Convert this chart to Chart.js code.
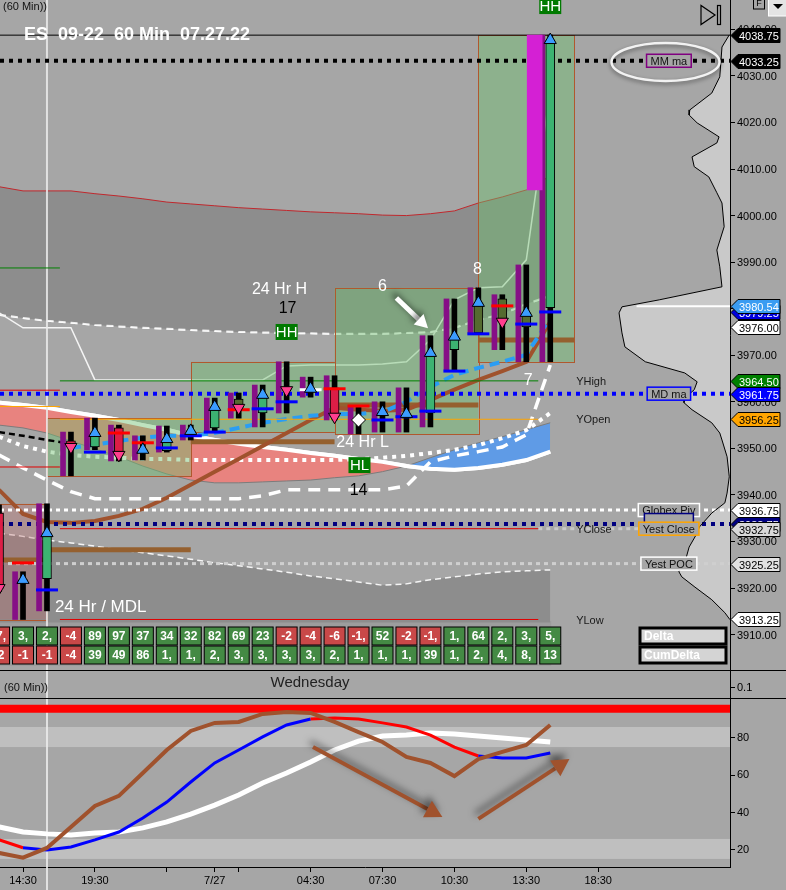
<!DOCTYPE html>
<html>
<head>
<meta charset="utf-8">
<title>ES 09-22 60 Min 07.27.22</title>
<script src="https://cdn.jsdelivr.net/npm/chart.js@4.4.1/dist/chart.umd.min.js"></script>
<style>
  html, body { margin: 0; padding: 0; background: #a6a6a6; overflow: hidden; }
  #wrap { position: relative; width: 786px; height: 890px; }
  canvas { position: absolute; left: 0; display: block; }
  #price { top: 0; width: 786px; height: 670px; }
  #osc { top: 670px; width: 786px; height: 220px; }
</style>
</head>
<body>
<div id="wrap">
  <canvas id="price" width="786" height="670"></canvas>
  <canvas id="osc" width="786" height="220"></canvas>
</div>
<script>
const FONT = '"Liberation Sans", Arial, sans-serif';
const BG = '#a6a6a6';

// 60 min bars, x = bar number (0 = the 14:30 bar)
const bars   = [-1, 0, 1, 2, 3, 4, 5, 6, 7, 8, 9, 10, 11, 12, 13, 14, 15, 16, 17, 18, 19, 20, 21, 22];
const opens  = [3936.1, 3921.2, 3922.0, 3951.6, 3950.3, 3954.4, 3949.2, 3949.5, 3952.9, 3954.4, 3960.6, 3957.6, 3963.0, 3962.3, 3963.0, 3956.1, 3957.0, 3956.5, 3957.6, 3971.2, 3974.8, 3982.1, 3976.1, 3980.2];
const highs  = [3937.9, 3923.5, 3938.1, 3953.5, 3956.5, 3955.0, 3952.7, 3954.8, 3955.0, 3960.8, 3961.9, 3963.6, 3968.6, 3965.3, 3965.6, 3959.1, 3960.0, 3963.0, 3974.2, 3982.1, 3984.5, 3983.0, 3989.4, 4038.75];
const lows   = [3919.2, 3913.25, 3915.1, 3944.1, 3949.7, 3947.3, 3947.5, 3949.2, 3951.8, 3953.5, 3956.5, 3954.6, 3957.6, 3961.0, 3956.1, 3953.1, 3953.5, 3953.5, 3954.6, 3966.9, 3974.8, 3971.2, 3968.6, 3968.6];
const closes = [3920.0, 3921.75, 3931.8, 3950.3, 3953.3, 3948.6, 3949.7, 3952.0, 3953.75, 3958.9, 3958.7, 3961.5, 3962.5, 3962.8, 3956.8, 3956.1, 3957.8, 3957.4, 3970.5, 3974.0, 3981.25, 3977.2, 3979.1, 4037.7];
const oliveBars = [9, 19, 20, 21];
const lastBarSpike = [4005.5, 4038.75];

// per bar value markers
const pocBlue  = [null, null, 3919.6, null, 3949.2, null, null, 3950.1, 3952.7, 3953.5, null, 3958.5, 3960.0, null, null, null, 3956.1, 3956.8, 3958.0, 3966.6, 3974.6, null, 3976.7, 3979.3];
const pocRed   = [null, 3925.4, null, null, null, 3953.3, 3951.2, null, null, null, 3958.3, null, null, null, 3962.8, 3959.1, null, null, null, null, null, 3980.6, null, null];
const pocWhite = [null, null, null, null, null, null, null, null, null, null, null, null, null, 3962.6, null, null, null, null, null, null, null, null, null, null];

// overlay studies
const upperTop    = [4006.2, 4005.3, 4005.3, 4005.3, 4004.7, 4004.2, 4003.6, 4002.9, 4002.5, 4002.1, 4001.7, 4001.4, 4001.1, 4000.8, 4000.6, 4000.4, 4000.1, 4000.0, 4000.4, 4001.0, 4002.7, 4004.0, 4005.5, 4008.5];
const upperBot    = [3978.7, 3978.0, 3977.4, 3977.0, 3976.5, 3976.2, 3975.9, 3975.7, 3975.4, 3975.2, 3975.0, 3974.9, 3974.8, 3974.7, 3974.6, 3974.6, 3974.6, 3974.8, 3975.0, 3975.9, 3977.6, 3978.9, 3981.0, 3982.8];
const lowerTop    = [3931.8, 3931.1, 3930.3, 3929.7, 3929.0, 3928.2, 3927.6, 3926.9, 3926.2, 3925.4, 3924.8, 3924.1, 3923.4, 3922.6, 3922.0, 3921.3, 3920.6, 3920.9, 3921.8, 3922.4, 3923.0, 3923.5, 3923.7, 3923.9];
const kumoA       = [3959.8, 3959.3, 3958.7, 3957.8, 3957.0, 3956.1, 3955.0, 3954.0, 3952.7, 3951.8, 3951.0, 3950.3, 3949.7, 3949.0, 3948.4, 3947.7, 3947.1, 3946.2, 3945.6, 3945.4, 3945.8, 3946.5, 3947.5, 3949.3];
const kumoB       = [3955.0, 3954.4, 3953.3, 3951.6, 3949.9, 3948.2, 3946.2, 3944.5, 3943.2, 3942.6, 3942.6, 3942.8, 3943.0, 3943.2, 3943.7, 3944.1, 3945.0, 3946.2, 3948.0, 3949.7, 3951.2, 3952.5, 3954.0, 3955.5];
const whiteDotted = [3952.5, 3950.5, 3949.3, 3948.6, 3948.2, 3948.0, 3947.7, 3947.7, 3947.5, 3947.5, 3947.5, 3947.5, 3947.5, 3947.5, 3947.5, 3947.7, 3948.0, 3948.4, 3949.0, 3949.7, 3950.7, 3952.2, 3953.9, 3957.6];
const thinWhite   = [3979.1, 3975.9, 3975.9, 3975.9, 3964.7, 3964.7, 3964.7, 3964.7, 3964.7, 3964.7, 3964.7, 3964.7, 3967.7, 3967.9, 3967.9, 3967.9, 3968.1, 3968.6, 3973.3, 3981.9, 3984.5, 3984.7, 3990.5, 4027.0];
const blackDash   = [3953.5, 3952.7, 3951.8, 3951.0, null, null, null, null, null, null, null, null, null, null, null, null, null, null, null, null, null, null, null, null];
const brownMA     = [3941.1, 3935.9, 3934.2, 3934.0, 3934.4, 3935.5, 3937.0, 3939.4, 3942.2, 3945.0, 3947.7, 3950.5, 3953.3, 3956.1, 3958.7, 3958.3, 3958.1, 3958.3, 3960.4, 3962.6, 3964.7, 3966.6, 3968.6, 3977.2];
const blueDash    = [null, null, null, 3950.1, 3950.8, 3951.6, 3952.3, 3952.7, 3952.7, 3953.3, 3954.4, 3955.5, 3956.3, 3957.0, 3957.4, 3957.4, 3957.8, 3960.0, 3963.2, 3965.8, 3967.3, 3968.6, 3970.1, 3978.0];
const bigDash     = [3948.6, 3945.8, 3943.2, 3940.7, 3939.2, 3939.2, 3939.2, 3939.2, 3939.2, 3939.2, 3939.2, 3939.8, 3941.1, 3941.1, 3941.1, 3941.1, 3941.1, 3941.9, 3947.1, 3948.4, 3949.3, 3950.3, 3952.9, 3967.9];

// 4 hour range boxes (bar numbers) and their brown level
const boxStart = [-5, 1, 7, 13, 19];
const boxEnd   = [1, 7, 13, 19, 23];
const boxPoc   = [3926.0, 3928.2, 3951.4, 3959.3, 3973.3];

// price levels
const levelNames  = ['MM ma', 'MD ma', 'Globex Piv', '', 'Yest Close', 'Yest POC'];
const levelPrices = [4033.25, 3961.75, 3936.75, 3933.75, 3932.75, 3925.25];
const sessionHigh = 4038.75;
const yestNames   = ['YHigh', 'YOpen', 'YClose', 'YLow'];
const yestPrices  = [3964.50, 3956.25, 3932.75, 3913.25];
const priorPrices = [3988.75, 3962.50, 3959.00, 3946.00];
const lastPrice   = 3980.54;

// right axis price tags
const tagPrices = [3979.25, 3980.54, 3976.00, 3964.50, 3961.75, 3956.25, 3936.75, 3933.75, 3932.75, 3925.25, 3913.25, 4038.75, 4033.25];

// volume profile
const profilePrice = [4038.8, 4036.2, 4029.8, 4026.3, 4022.7, 4021.6, 4019.9, 4016.9, 4015.6, 4012.6, 4010.5, 4008.3, 4004.9, 4002.7, 3997.6, 3992.6, 3989.0, 3984.7, 3981.9, 3980.4, 3979.1, 3974.8, 3971.8, 3968.6, 3966.2, 3964.3, 3962.6, 3960.8, 3959.8, 3958.3, 3955.5, 3953.3, 3951.8, 3948.2, 3943.9, 3940.4, 3938.3, 3936.1, 3933.1, 3931.8, 3928.8, 3925.4, 3923.5, 3922.4, 3920.2, 3917.5, 3914.7, 3913.2];
const profileVol   = [0.1, 1.1, 1.4, 2.5, 5.5, 5.6, 4.5, 1.5, 1.8, 5.2, 4.9, 2.9, 1.8, 1.1, 0.8, 1.8, 1.4, 1.1, 9.7, 14.8, 15.2, 14.8, 14.4, 11.6, 6.2, 4.5, 4.9, 6.2, 6.3, 5.2, 2.5, 1.4, 1.1, 0.4, 0.1, 0.4, 0.7, 2.5, 4.2, 4.5, 5.6, 6.2, 7.0, 6.6, 4.8, 2.5, 0.7, 0.0];

// delta rows
const deltaRow = ['-7,', '3,', '2,', '-4', '89', '97', '37', '34', '32', '82', '69', '23', '-2', '-4', '-6', '-1,', '52', '-2', '-1,', '1,', '64', '2,', '3,', '5,'];
const cumRow   = ['-2', '-1', '-1', '-4', '39', '49', '86', '1,', '1,', '2,', '3,', '3,', '3,', '3,', '2,', '1,', '1,', '1,', '39', '1,', '2,', '4,', '8,', '13'];

// oscillator
const oscBrown = [18.4, 15.9, 21.1, 32.3, 43.5, 48.9, 61.1, 73.4, 83.6, 87.9, 88.4, 92.7, 93.7, 93.2, 88.4, 83.0, 77.7, 69.7, 66.5, 59.5, 68.6, 72.4, 76.1, 86.8];
const oscK     = [25.4, 21.2, 20.0, 21.6, 25.4, 29.6, 37.1, 45.6, 56.3, 66.5, 73.4, 80.4, 86.8, 90.0, 90.5, 90.0, 87.9, 85.7, 81.4, 75.0, 70.2, 69.2, 69.2, 71.8];
const oscWhite = [32.3, 29.6, 28.6, 28.0, 29.1, 29.6, 31.8, 35.0, 39.2, 44.0, 49.4, 55.8, 61.1, 67.0, 73.4, 78.2, 80.9, 81.4, 82.5, 82.0, 80.9, 79.8, 78.8, 77.7];
const oscUpper = 95.4;
const oscBands = [[75.0, 85.7], [15.2, 25.9]];

// axes
const priceTicks = [3910, 3920, 3930, 3940, 3950, 3960, 3970, 3980, 3990, 4000, 4010, 4020, 4030, 4040];
const oscTicks   = [20, 40, 60, 80];
const timeTicks  = [0, 3, 6, 8, 9, 12, 15, 18, 21, 24];
const timeLabels = ['14:30', '19:30', '', '7/27', '', '04:30', '07:30', '10:30', '13:30', '18:30'];
const sessionBar = 1;

const X0 = -0.96, X1 = 29.5;

// ---------- helpers ----------
function series(arr, shift) {
  return bars.map((b, k) => ({x: b + (shift || 0), y: arr[k]})).filter(p => p.y !== null);
}
function line(label, data, o) {
  return Object.assign({type: 'line', label, data, pointRadius: 0, borderWidth: 1, fill: false,
    tension: 0, borderCapStyle: 'butt'}, o);
}
function flat(label, x1, x2, v, o) {
  return line(label, [{x: x1, y: v}, {x: x2, y: v}], o);
}
function arrow(ctx, x1, y1, x2, y2, color, w, head) {
  const a = Math.atan2(y2 - y1, x2 - x1);
  const bx = x2 - head * Math.cos(a), by = y2 - head * Math.sin(a);
  const hw = head * 0.55;
  ctx.strokeStyle = color; ctx.lineWidth = w; ctx.lineCap = 'butt';
  ctx.beginPath(); ctx.moveTo(x1, y1); ctx.lineTo(bx, by); ctx.stroke();
  ctx.fillStyle = color;
  ctx.beginPath(); ctx.moveTo(x2, y2);
  ctx.lineTo(bx + hw * Math.sin(a), by - hw * Math.cos(a));
  ctx.lineTo(bx - hw * Math.sin(a), by + hw * Math.cos(a));
  ctx.closePath(); ctx.fill();
}
function text(ctx, s, x, y, color, size, weight, align) {
  ctx.font = (weight || '') + ' ' + size + 'px ' + FONT;
  ctx.fillStyle = color; ctx.textAlign = align || 'center'; ctx.textBaseline = 'middle';
  ctx.fillText(s, x, y);
}

// ---------- price chart datasets ----------
const ds = [];
const idx = {};
function add(d) { idx[d.label] = ds.length; ds.push(d); return d; }

add(line('upperBot', series(upperBot), {borderColor: 'rgba(255,255,255,0.85)', borderWidth: 2, borderDash: [7, 5]}));
add(line('upperTop', series(upperTop), {borderColor: '#c0282d', borderWidth: 1,
  fill: {target: idx.upperBot, above: '#8d8d8d', below: '#8d8d8d'}}));
add(line('upperBot2', series(upperBot), {borderColor: 'rgba(255,255,255,0.85)', borderWidth: 2, borderDash: [7, 5]}));
add(line('lowerTop', series(lowerTop), {borderColor: 'rgba(255,255,255,0.9)', borderWidth: 1.5, borderDash: [6, 4],
  fill: {value: 3912.6}, backgroundColor: '#8d8d8d'}));
add(line('kumoA', series(kumoA), {borderColor: '#ffffff', borderWidth: 4}));
add(line('kumoB', series(kumoB), {borderColor: '#7c7c7c', borderWidth: 1,
  fill: {target: idx.kumoA, above: '#5f9be6', below: '#e8837f'}}));
add(line('kumoA2', series(kumoA), {borderColor: '#ffffff', borderWidth: 4}));
add(line('whiteDotted', series(whiteDotted), {borderColor: '#ffffff', borderWidth: 4, borderDash: [4, 5]}));
add(line('thinWhite', series(thinWhite), {borderColor: '#f4f4f4', borderWidth: 1.5}));
add(line('blackDash', series(blackDash), {borderColor: '#000000', borderWidth: 2.5, borderDash: [6, 4]}));
add(line('session', [{x: sessionBar, y: 3900}, {x: sessionBar, y: 4050}],
  {borderColor: 'rgba(235,235,235,0.85)', borderWidth: 2}));
add(line('brownMA', series(brownMA), {borderColor: '#a0522d', borderWidth: 4}));
add(line('blueDash', series(blueDash), {borderColor: '#2a9df4', borderWidth: 4, borderDash: [10, 6]}));
add(line('bigDash', series(bigDash), {borderColor: '#ffffff', borderWidth: 3.5, borderDash: [12, 8]}));

// levels
add(flat('hi', X0, X1, sessionHigh, {borderColor: '#000', borderWidth: 1}));
const levelStyle = [
  {borderColor: '#000000', borderWidth: 4, borderDash: [4, 5]},
  {borderColor: '#0000ff', borderWidth: 4, borderDash: [4, 5]},
  {borderColor: '#ffffff', borderWidth: 3, borderDash: [4, 4]},
  {borderColor: '#000080', borderWidth: 4, borderDash: [4, 5]},
  {borderColor: '#c8c8c8', borderWidth: 3, borderDash: [4, 4]},
  {borderColor: '#cfcfcf', borderWidth: 3, borderDash: [4, 4]}
];
levelPrices.forEach((p, k) => {
  const x1 = k === 4 ? 21.5 : X0;
  add(flat('lvl' + k, x1, X1, p, levelStyle[k]));
});
const yestColors = ['#008000', '#ffa500', '#e00000', '#e00000'];
yestPrices.forEach((p, k) => add(flat('y' + k, 1.54, 21.5, p, {borderColor: yestColors[k], borderWidth: 1})));
const priorColors = ['#008000', '#e00000', '#ffa500', '#e00000'];
priorPrices.forEach((p, k) => add(flat('p' + k, X0, 1.54, p, {borderColor: priorColors[k], borderWidth: 1})));
add(flat('last', 25.6, X1, lastPrice, {borderColor: '#ffffff', borderWidth: 2}));

// candles
add({type: 'bar', label: 'profileBars', grouped: false, barThickness: 5, backgroundColor: '#860f86',
  data: bars.map((b, k) => ({x: b - 0.33, y: [lows[k], highs[k]]}))});
add({type: 'bar', label: 'spike', grouped: false, barThickness: 15, backgroundColor: '#d420d4',
  data: [{x: bars[bars.length - 1] - 0.65, y: lastBarSpike}]});
add({type: 'bar', label: 'wicks', grouped: false, barThickness: 5, backgroundColor: '#000',
  data: bars.map((b, k) => ({x: b, y: [lows[k], highs[k]]}))});
add({type: 'bar', label: 'bodies', grouped: false, barThickness: 9, borderColor: '#000', borderWidth: 1, borderSkipped: false,
  backgroundColor: bars.map((b, k) => oliveBars.includes(b) ? '#556b2f' : (closes[k] >= opens[k] ? '#3cb371' : '#dc1e46')),
  data: bars.map((b, k) => ({x: b, y: [opens[k], closes[k]]}))});
const marker = (label, arr, color) => add(line(label, series(arr), {showLine: false, pointStyle: 'line', pointRadius: 11,
  pointBorderColor: color, pointBorderWidth: 3}));
marker('pocBlue', pocBlue, '#0000ff');
marker('pocRed', pocRed, '#ff0000');
marker('pocWhite', pocWhite, '#ffffff');
const upPts = [], dnPts = [], dojiPts = [];
bars.forEach((b, k) => {
  const d = closes[k] - opens[k];
  if (Math.abs(d) < 0.05) dojiPts.push({x: b, y: closes[k]});
  else if (d > 0) upPts.push({x: b, y: closes[k]});
  else dnPts.push({x: b, y: closes[k]});
});
add(line('up', upPts, {showLine: false, pointStyle: 'triangle', pointRadius: 7, pointBackgroundColor: '#3b9cff',
  pointBorderColor: '#000', pointBorderWidth: 1}));
add(line('dn', dnPts, {showLine: false, pointStyle: 'triangle', pointRotation: 180, pointRadius: 7,
  pointBackgroundColor: '#ff3f8e', pointBorderColor: '#000', pointBorderWidth: 1}));
add(line('doji', dojiPts, {showLine: false, pointStyle: 'rectRot', pointRadius: 7, pointBackgroundColor: '#ffffff',
  pointBorderColor: '#000', pointBorderWidth: 1}));
add(line('profile', profilePrice.map((p, k) => ({x: profileVol[k], y: p})), {xAxisID: 'xv', borderColor: '#000', borderWidth: 1}));

ds.forEach((d, k) => { d.order = ds.length - k; });

// ---------- price chart plugin ----------
const pricePlugin = {
  id: 'priceDecor',
  beforeDraw(chart) {
    const {ctx, width, height} = chart;
    ctx.save(); ctx.fillStyle = BG; ctx.fillRect(0, 0, width, height); ctx.restore();
  },
  beforeDatasetsDraw(chart) {
    const ctx = chart.ctx, xv = chart.scales.xv, y = chart.scales.y, x = chart.scales.x;
    ctx.save();
    ctx.beginPath();
    ctx.moveTo(xv.getPixelForValue(0), y.getPixelForValue(profilePrice[0]));
    profilePrice.forEach((p, k) => ctx.lineTo(xv.getPixelForValue(profileVol[k]), y.getPixelForValue(p)));
    ctx.lineTo(xv.getPixelForValue(0), y.getPixelForValue(profilePrice[profilePrice.length - 1]));
    ctx.closePath();
    ctx.fillStyle = '#c9c9c9'; ctx.fill();
    const b = chart.chartArea.bottom;
    ctx.fillStyle = 'rgba(0,0,0,0.05)';
    ctx.fillRect(0, b - 49, x.getPixelForValue(22) + 1, 45);
    ctx.restore();
  },
  afterDatasetDraw(chart, args) {
    if (chart.data.datasets[args.index].label !== 'thinWhite') return;
    const ctx = chart.ctx, x = chart.scales.x, y = chart.scales.y;
    ctx.save();
    boxStart.forEach((s, k) => {
      const e = boxEnd[k];
      const inBox = bars.map((b, j) => j).filter(j => bars[j] > s && bars[j] <= e);
      const hi = Math.max(...inBox.map(j => highs[j]));
      const lo = Math.min(...inBox.map(j => lows[j]));
      const up = closes[inBox[inBox.length - 1]] >= opens[inBox[0]];
      const x1 = x.getPixelForValue(s), x2 = x.getPixelForValue(e);
      const y1 = y.getPixelForValue(hi), y2 = y.getPixelForValue(lo);
      ctx.fillStyle = up ? 'rgba(110,190,110,0.45)' : 'rgba(190,110,110,0.35)';
      ctx.fillRect(x1, y1, x2 - x1, y2 - y1);
      ctx.strokeStyle = '#b0582e'; ctx.lineWidth = 1;
      ctx.strokeRect(Math.round(x1) + 0.5, Math.round(y1) + 0.5, Math.round(x2 - x1), Math.round(y2 - y1));
      const yp = y.getPixelForValue(boxPoc[k]);
      ctx.strokeStyle = '#95602f'; ctx.lineWidth = 5;
      ctx.beginPath(); ctx.moveTo(Math.max(x1, 0), yp); ctx.lineTo(x2, yp); ctx.stroke();
    });
    ctx.restore();
  },
  afterDatasetsDraw(chart) {
    const ctx = chart.ctx, x = chart.scales.x, y = chart.scales.y, area = chart.chartArea;
    const X = v => x.getPixelForValue(v), Y = v => y.getPixelForValue(v);
    ctx.save();

    yestNames.forEach((n, k) => text(ctx, n, X(23.08), Y(yestPrices[k]) + 1, '#1a1a1a', 11, '', 'left'));

    const notes = [
      ['24 Hr H', 10.7, 3984.0, '#fff'], ['17', 11.04, 3979.95, '#000'], ['6', 15.0, 3984.7, '#fff'],
      ['8', 18.96, 3988.3, '#fff'], ['7', 21.08, 3964.5, '#fff'], ['24 Hr L', 14.17, 3951.2, '#fff'],
      ['14', 14.0, 3940.9, '#000']
    ];
    notes.forEach(n => text(ctx, n[0], X(n[1]), Y(n[2]), n[3], 16));
    text(ctx, '24 Hr / MDL', X(1.33), Y(3915.95), '#fff', 17, '', 'left');
    [['HH', 22, 4045.0], ['HH', 11, 3975.0], ['HL', 14.04, 3946.4]].forEach(h => {
      const cx = X(h[1]), cy = Y(h[2]);
      ctx.fillStyle = '#007a00'; ctx.fillRect(cx - 11, cy - 8, 22, 16);
      text(ctx, h[0], cx, cy + 1, '#fff', 15);
    });

    ctx.save();
    ctx.shadowColor = 'rgba(0,0,0,0.55)'; ctx.shadowBlur = 6; ctx.shadowOffsetX = -3; ctx.shadowOffsetY = -4;
    arrow(ctx, X(15.58), Y(3982.3), X(16.9), Y(3975.8), '#ffffff', 5, 13);
    ctx.restore();

    const borders = ['#800080', '#0000ff', '#ffffff', '#000080', '#ffa500', '#ffffff'];
    levelPrices.forEach((p, k) => {
      const cx = X(26.95), cy = Y(p) + (k === 3 ? -4 : 0);
      ctx.font = '11px ' + FONT;
      const w = levelNames[k] ? ctx.measureText(levelNames[k]).width + 8 : 49;
      ctx.fillStyle = BG; ctx.fillRect(cx - w / 2, cy - 6.5, w, 13);
      ctx.strokeStyle = borders[k]; ctx.lineWidth = 1.5; ctx.strokeRect(cx - w / 2, cy - 6.5, w, 13);
      if (levelNames[k]) text(ctx, levelNames[k], cx, cy + 1, '#111', 11);
    });

    ctx.save();
    ctx.shadowColor = 'rgba(0,0,0,0.45)'; ctx.shadowBlur = 4; ctx.shadowOffsetY = 2;
    ctx.strokeStyle = '#f2f2f2'; ctx.lineWidth = 2.5;
    ctx.beginPath(); ctx.ellipse(X(26.81), Y(4033.0), 54, 19, 0, 0, Math.PI * 2); ctx.stroke();
    ctx.restore();

    const r1 = area.bottom - 34, r2 = area.bottom - 15;
    [[deltaRow, r1], [cumRow, r2]].forEach(([row, cy]) => {
      bars.forEach((b, k) => {
        const cx = X(b), neg = row[k].startsWith('-');
        ctx.fillStyle = neg ? '#c94848' : '#448a44';
        ctx.fillRect(cx - 10.5, cy - 9, 21, 18);
        ctx.strokeStyle = '#000'; ctx.lineWidth = 1; ctx.strokeRect(cx - 10.5, cy - 9, 21, 18);
        text(ctx, row[k], cx, cy + 1, '#fff', 12, 'bold');
      });
    });
    [['Delta', r1], ['CumDelta', r2]].forEach(([s, cy]) => {
      ctx.fillStyle = '#d4d4d4'; ctx.fillRect(640, cy - 8, 86, 16);
      ctx.strokeStyle = '#000'; ctx.lineWidth = 3; ctx.strokeRect(640, cy - 8, 86, 16);
      text(ctx, s, 644, cy + 1, '#fff', 12, 'bold', 'left');
    });

    text(ctx, '(60 Min))', 3, 7, '#111', 11, '', 'left');
    ctx.font = 'bold 18px ' + FONT; ctx.fillStyle = '#fff'; ctx.textAlign = 'left'; ctx.textBaseline = 'alphabetic';
    ctx.fillText('ES  09-22  60 Min  07.27.22', 24, 40);
    ctx.restore();
  },
  afterDraw(chart) {
    const ctx = chart.ctx, y = chart.scales.y, r = chart.chartArea.right;
    ctx.save();
    priceTicks.forEach(v => text(ctx, v.toFixed(2), r + 7, Math.round(y.getPixelForValue(v)) + 1, '#000', 11, '', 'left'));
    const fills = ['#0000dd', '#3a9cf2', '#ffffff', '#008000', '#0000ff', '#ffa500', '#ffffff', '#000080', '#d8d8d8', '#e2e2e2', '#ffffff', '#000000', '#000000'];
    const inks  = ['#fff', '#fff', '#000', '#fff', '#fff', '#000', '#000', '#fff', '#000', '#000', '#000', '#fff', '#fff'];
    tagPrices.forEach((p, k) => {
      const cy = Math.round(y.getPixelForValue(p)) + 0.5;
      ctx.beginPath();
      ctx.moveTo(r + 1, cy); ctx.lineTo(r + 8, cy - 7); ctx.lineTo(r + 50, cy - 7);
      ctx.lineTo(r + 50, cy + 7); ctx.lineTo(r + 8, cy + 7); ctx.closePath();
      ctx.fillStyle = fills[k]; ctx.fill();
      ctx.strokeStyle = '#000'; ctx.lineWidth = 1; ctx.stroke();
      text(ctx, p.toFixed(2), r + 9, cy + 1, inks[k], 11, '', 'left');
    });
    ctx.strokeStyle = '#000'; ctx.lineWidth = 1.2;
    ctx.beginPath(); ctx.moveTo(701, 5.5); ctx.lineTo(701, 24.5); ctx.lineTo(715, 15); ctx.closePath(); ctx.stroke();
    ctx.strokeRect(717.5, 5.5, 3, 19);
    ctx.lineWidth = 1; ctx.strokeRect(753.5, -1, 11, 10);
    text(ctx, 'F', 759, 4, '#000', 9);
    ctx.fillStyle = '#e4e4e4'; ctx.fillRect(768, 0, 18, 16);
    ctx.strokeStyle = '#fff'; ctx.strokeRect(768.5, -1, 18, 17);
    ctx.fillStyle = '#000'; ctx.beginPath(); ctx.moveTo(773, 4); ctx.lineTo(783, 4); ctx.lineTo(778, 9); ctx.closePath(); ctx.fill();
    ctx.restore();
  }
};

new Chart(document.getElementById('price'), {
  type: 'line',
  data: {datasets: ds},
  options: {
    responsive: false, animation: false, events: [],
    layout: {padding: 0, autoPadding: false},
    plugins: {legend: {display: false}, tooltip: {enabled: false}},
    scales: {
      x: {type: 'linear', min: X0, max: X1, display: false, offset: false, grid: {offset: false}},
      xv: {type: 'linear', min: 0, max: 100, reverse: true, display: false, offset: false},
      y: {
        type: 'linear', position: 'right', min: 3902.4, max: 4046.3, beginAtZero: false,
        afterBuildTicks: s => { s.ticks = priceTicks.map(v => ({value: v})); },
        afterFit: s => { s.width = 56; s.paddingTop = 0; s.paddingBottom = 0; },
        ticks: {display: false},
        grid: {drawOnChartArea: false, drawTicks: true, tickLength: 5, color: '#000'},
        border: {display: true, color: '#000', width: 1}
      }
    }
  },
  plugins: [pricePlugin]
});

// ---------- oscillator ----------
const ods = [
  flat('upper', X0, X1, oscUpper, {borderColor: '#ff0000', borderWidth: 8}),
  line('white', series(oscWhite), {borderColor: '#ffffff', borderWidth: 5}),
  line('k', series(oscK), {borderColor: '#0000ff', borderWidth: 3,
    segment: {borderColor: c => oscBrown[c.p1DataIndex] > oscK[c.p1DataIndex] ? '#0000ff' : '#ff0000'}}),
  line('brown', series(oscBrown), {borderColor: '#a0522d', borderWidth: 4})
];
ods.forEach((d, k) => { d.order = ods.length - k; });

const oscPlugin = {
  id: 'oscDecor',
  beforeDraw(chart) {
    const {ctx, width, height} = chart;
    ctx.save(); ctx.fillStyle = BG; ctx.fillRect(0, 0, width, height); ctx.restore();
  },
  beforeDatasetsDraw(chart) {
    const ctx = chart.ctx, x = chart.scales.x, y = chart.scales.y, a = chart.chartArea;
    ctx.save();
    ctx.fillStyle = '#bfbfbf';
    oscBands.forEach(([lo, hi]) => {
      const y1 = y.getPixelForValue(hi), y2 = y.getPixelForValue(lo);
      ctx.fillRect(a.left, y1, a.right - a.left, y2 - y1);
    });
    ctx.strokeStyle = 'rgba(235,235,235,0.85)'; ctx.lineWidth = 2;
    const sx = x.getPixelForValue(sessionBar);
    ctx.beginPath(); ctx.moveTo(sx, 0); ctx.lineTo(sx, chart.height); ctx.stroke();
    ctx.restore();
  },
  afterDatasetsDraw(chart) {
    const ctx = chart.ctx, x = chart.scales.x, y = chart.scales.y;
    const X = v => x.getPixelForValue(v), Y = v => y.getPixelForValue(v);
    ctx.save();
    ctx.shadowColor = 'rgba(0,0,0,0.5)'; ctx.shadowBlur = 7; ctx.shadowOffsetX = -3; ctx.shadowOffsetY = -5;
    arrow(ctx, X(12.1), Y(75.0), X(17.5), Y(37.6), '#a0522d', 4, 17);
    arrow(ctx, X(19.0), Y(36.6), X(22.8), Y(68.6), '#a0522d', 4, 17);
    ctx.restore();
  },
  afterDraw(chart) {
    const ctx = chart.ctx, a = chart.chartArea, w = chart.width;
    ctx.save();
    ctx.strokeStyle = '#000'; ctx.lineWidth = 1;
    ctx.beginPath();
    ctx.moveTo(0, 0.5); ctx.lineTo(w, 0.5);
    ctx.moveTo(0, a.top + 0.5); ctx.lineTo(w, a.top + 0.5);
    ctx.moveTo(a.right + 0.5, 0); ctx.lineTo(a.right + 0.5, a.top);
    ctx.moveTo(a.right, 17.5); ctx.lineTo(a.right + 5, 17.5);
    ctx.stroke();
    text(ctx, '0.1', a.right + 7, 17.5, '#000', 11, '', 'left');
    text(ctx, '(60 Min))', 4, 18, '#111', 11, '', 'left');
    text(ctx, 'Wednesday', 310, 13, '#222', 15);
    ctx.restore();
  }
};

new Chart(document.getElementById('osc'), {
  type: 'line',
  data: {datasets: ods},
  options: {
    responsive: false, animation: false, events: [],
    layout: {padding: {top: 28}, autoPadding: false},
    plugins: {legend: {display: false}, tooltip: {enabled: false}},
    scales: {
      x: {
        type: 'linear', min: X0, max: X1, position: 'bottom',
        afterBuildTicks: s => { s.ticks = timeTicks.map(v => ({value: v})); },
        afterFit: s => { s.height = 23; s.paddingLeft = 0; s.paddingRight = 0; },
        ticks: {autoSkip: false, maxRotation: 0, color: '#000', padding: 2, font: {family: FONT, size: 11},
          callback: (v, i) => timeLabels[i]},
        grid: {drawOnChartArea: false, drawTicks: true, tickLength: 5, color: '#000'},
        border: {display: true, color: '#000'}
      },
      y: {
        type: 'linear', position: 'right', min: 10.9, max: 101.2,
        afterBuildTicks: s => { s.ticks = oscTicks.map(v => ({value: v})); },
        afterFit: s => { s.width = 56; s.paddingTop = 0; s.paddingBottom = 0; },
        ticks: {color: '#000', padding: 2, font: {family: FONT, size: 11}, callback: v => String(v)},
        grid: {drawOnChartArea: false, drawTicks: true, tickLength: 5, color: '#000'},
        border: {display: true, color: '#000'}
      }
    }
  },
  plugins: [oscPlugin]
});
</script>
</body>
</html>
